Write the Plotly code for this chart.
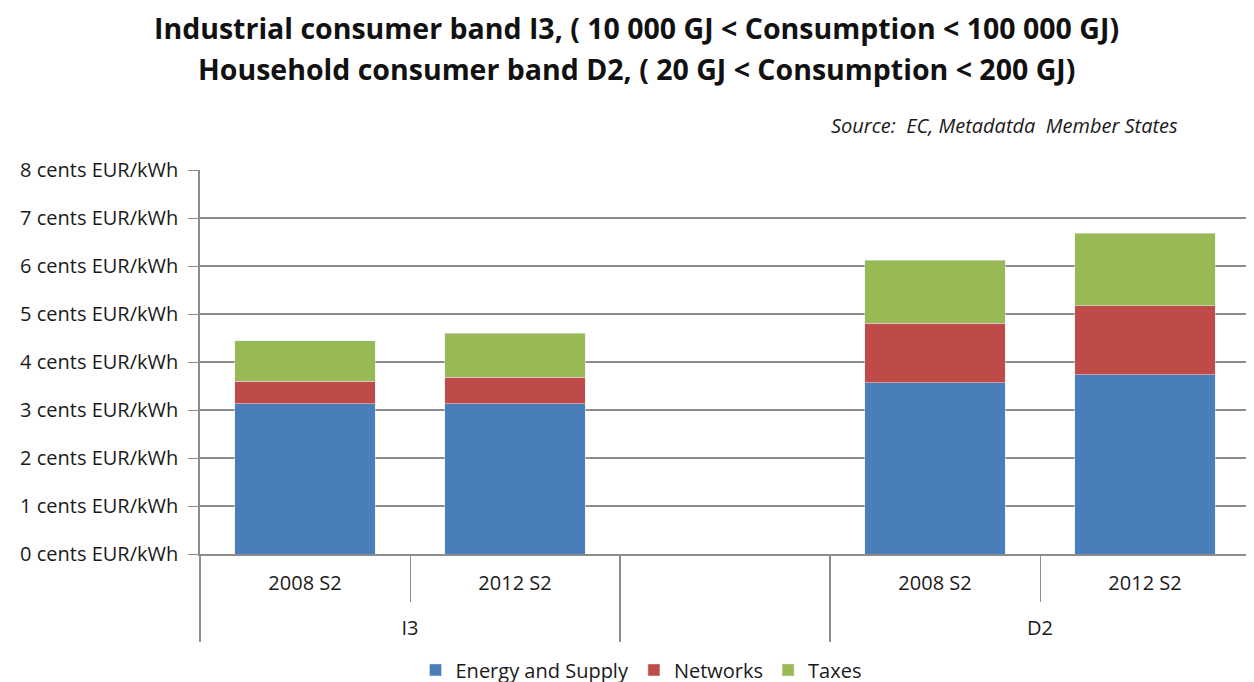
import plotly.graph_objects as go

groups = ["I3", "I3", " ", "D2", "D2"]
periods = ["2008 S2", "2012 S2", " ", "2008 S2", "2012 S2"]
energy = [3.13, 3.13, None, 3.57, 3.73]
networks = [0.47, 0.55, None, 1.24, 1.44]
taxes = [0.84, 0.92, None, 1.31, 1.51]
y_ticks = [0, 1, 2, 3, 4, 5, 6, 7, 8]
y_labels = [f"{v} cents EUR/kWh" for v in y_ticks]
title_lines = ["Industrial consumer band I3, ( 10 000 GJ < Consumption < 100 000 GJ)",
               "Household consumer band D2, ( 20 GJ < Consumption < 200 GJ)"]

font = "Open Sans"
grid = "#8c8c8c"
# push the outer category row down one line, like the reference
x = [[f"<br>{g}" for g in groups], periods]

fig = go.Figure()
fig.add_trace(go.Bar(x=x, y=energy, name="Energy and Supply", marker_color="#4a7ebb"))
fig.add_trace(go.Bar(x=x, y=networks, name="Networks", marker_color="#be4b48"))
fig.add_trace(go.Bar(x=x, y=taxes, name="Taxes", marker_color="#98b954"))

annotations = []
for line, ypos in zip(title_lines, [1.371, 1.262]):
    annotations.append(dict(text=f"<b>{line}</b>", xref="paper", yref="paper",
                            x=0.416, y=ypos, xanchor="center", yanchor="middle",
                            showarrow=False, borderpad=0,
                            font=dict(size=28.5, color="#111111")))
annotations.append(dict(text="<i>Source:  EC, Metadatda  Member States</i>",
                        xref="paper", yref="paper", x=0.933, y=1.115,
                        xanchor="right", yanchor="middle", showarrow=False,
                        font=dict(size=20)))

# the page body adds an 8px offset, so margins are shifted to compensate;
# the figure is a bit taller than the window so the legend never squeezes the plot
fig.update_layout(
    barmode="stack",
    bargap=0.333,
    width=1254, height=700,
    margin=dict(l=192, r=12, t=162, b=154),
    plot_bgcolor="white", paper_bgcolor="white",
    font=dict(family=font, size=19, color="#1a1a1a"),
    legend=dict(orientation="h", x=0.42, xanchor="center", y=-0.302, yanchor="middle",
                font=dict(size=20), traceorder="normal", itemwidth=30),
    annotations=annotations,
)
fig.update_yaxes(range=[0, 8], tickvals=y_ticks, ticktext=y_labels,
                 showgrid=True, gridcolor=grid, gridwidth=1.5,
                 showline=True, linecolor=grid, linewidth=1.5,
                 ticks="outside", ticklen=10, tickcolor=grid,
                 ticklabelstandoff=6,
                 tickfont=dict(size=20), zeroline=False, automargin=False)
fig.update_xaxes(showline=True, linecolor=grid, linewidth=1.5,
                 ticks="outside", ticklen=46, tickcolor=grid,
                 showdividers=True, dividercolor=grid, dividerwidth=1.5,
                 ticklabelstandoff=10,
                 tickfont=dict(size=20), automargin=False)

fig.write_html("out.html")
